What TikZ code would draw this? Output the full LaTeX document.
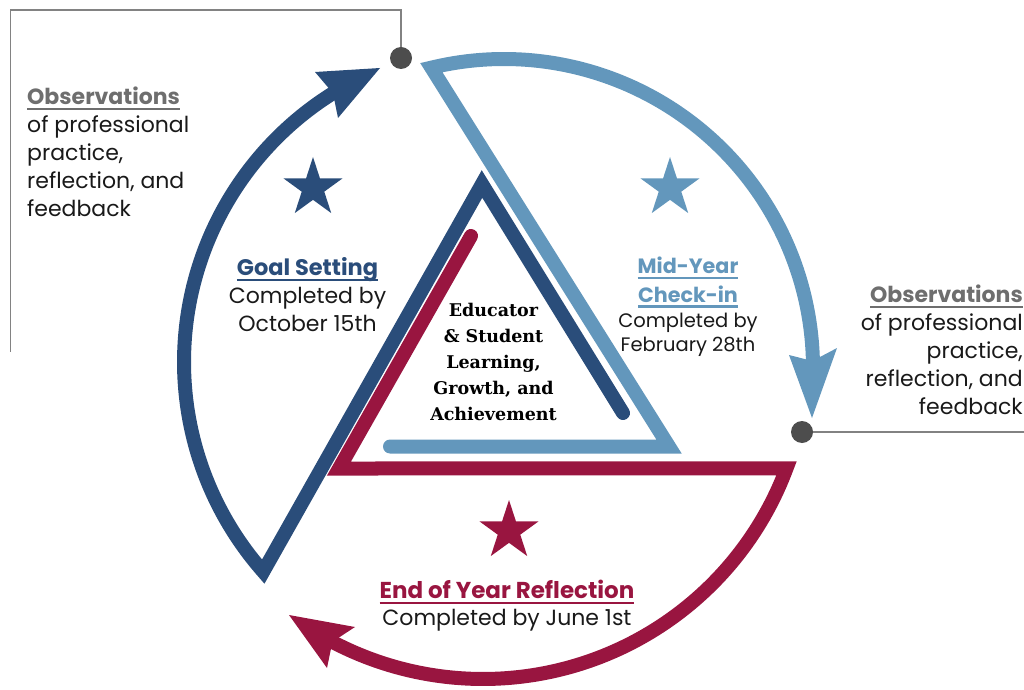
\documentclass[tikz,border=0pt]{standalone}
\usepackage{fontspec}
\setmainfont{Poppins}
\newfontfamily\ctrfont{DejaVu Serif}
\usetikzlibrary{calc}
\definecolor{db}{RGB}{42,77,122}
\definecolor{lb}{RGB}{99,151,188}
\definecolor{rd}{RGB}{153,21,64}
\definecolor{obsgray}{RGB}{110,110,110}
\definecolor{dotgray}{RGB}{77,77,77}
\definecolor{linegray}{RGB}{130,130,130}
\definecolor{txt}{RGB}{25,25,25}
\newlength{\hdlen}
\newcommand{\hd}[1]{\settowidth{\hdlen}{\textbf{#1}}\textbf{#1}\llap{\rule[-5.5pt]{\hdlen}{2.1pt}}}
\newcommand{\fivestar}[1]{\fill[#1] (90:31) -- (126:11.84) -- (162:31) -- (198:11.84) -- (234:31) -- (270:11.84) -- (306:31) -- (342:11.84) -- (18:31) -- (54:11.84) -- cycle;}
\begin{document}
\begin{tikzpicture}[x=1pt,y=1pt,
  band/.style={line width=14pt, line cap=round, line join=miter},
  body/.style={inner sep=0pt, text=txt, font=\fontsize{22}{28}\selectfont},
  leader/.style={linegray, line width=1.5pt},
  dot/.style={circle, fill=dotgray, minimum size=22pt, inner sep=0pt}]
\useasboundingbox (0,0) rectangle (1024,689);

% circle centres of the three arcs
\coordinate (Cd) at (501,327);
\coordinate (Cl) at (504,321);
\coordinate (Cr) at (483,334);

% leaders
\coordinate (cT1) at (401,679);
\coordinate (cT2) at (10.5,679);
\coordinate (cT3) at (10.5,337);
\coordinate (cR) at (1024,257);
\coordinate (pT) at (401,631);
\coordinate (pR) at (802,257);
\draw[leader] (pT) -- (cT1) -- (cT2) -- (cT3);
\draw[leader] (pR) -- (cR);
\node[dot] (dotT) at (pT) {};
\node[dot] (dotR) at (pR) {};

% light blue: Mid-Year
\draw[band, lb] (390,242.5) -- (669,242.5) -- ($(Cl)+(103.6:309)$) arc[start angle=103.6, end angle=1.3, radius=309];
\fill[lb] (812,271) -- (789,334) -- (812.4,328) -- (837,341) -- cycle;

% dark blue: Goal Setting
\draw[band, db] (623,276) -- (482,505) -- ($(Cd)+(221.4:317)$) arc[start angle=221.4, end angle=122, radius=317];
\fill[db] (380,621) -- (315,617) -- (333,595.8) -- (338,571) -- cycle;

% red: End of Year
\draw[band, rd] (471,453) -- (339,220.5) -- ($(Cr)+(-20.5:324)$) arc[start angle=-20.5, end angle=-117.7, radius=324];
\fill[rd] (289,74) -- (355,62) -- (332.4,47.2) -- (327,21) -- cycle;

% stars
\begin{scope}[shift={(313,501)}]\fivestar{db}\end{scope}
\begin{scope}[shift={(670,501)}]\fivestar{lb}\end{scope}
\begin{scope}[shift={(509,158)}]\fivestar{rd}\end{scope}

% texts
\node[body, anchor=north west, align=left] (obsL) at (27,602)
  {\textcolor{obsgray}{\hd{Observations}}\\of professional\\practice,\\reflection, and\\feedback};
\node[body, anchor=north east, align=right] (obsR) at (1023,404)
  {\textcolor{obsgray}{\hd{Observations}}\\of professional\\practice,\\reflection, and\\feedback};
\node[body, anchor=north, align=center] (goal) at (307.5,432)
  {\textcolor{db}{\fontsize{22.5}{28}\selectfont\hd{Goal Setting}}\\Completed by\\October 15th};
\node[body, anchor=north, align=center, font=\fontsize{20.7}{28.3}\selectfont] (midH) at (688,432)
  {\textcolor{lb}{\hd{Mid-Year}}\\\textcolor{lb}{\hd{Check-in}}};
\node[body, anchor=north, align=center, font=\fontsize{19.5}{24}\selectfont] (midB) at (688,376)
  {Completed by\\February 28th};
\node[body, anchor=north, align=center] (eoy) at (507,109)
  {\textcolor{rd}{\fontsize{23}{28}\selectfont\hd{End of Year Reflection}}\\[-1pt]Completed by June 1st};
\node[inner sep=0pt, anchor=north, align=center, text=black, font=\ctrfont\bfseries\fontsize{17.5}{26}\selectfont] (ctr) at (493.5,386)
  {Educator\\\& Student\\Learning,\\Growth, and\\Achievement};
\end{tikzpicture}
\end{document}
